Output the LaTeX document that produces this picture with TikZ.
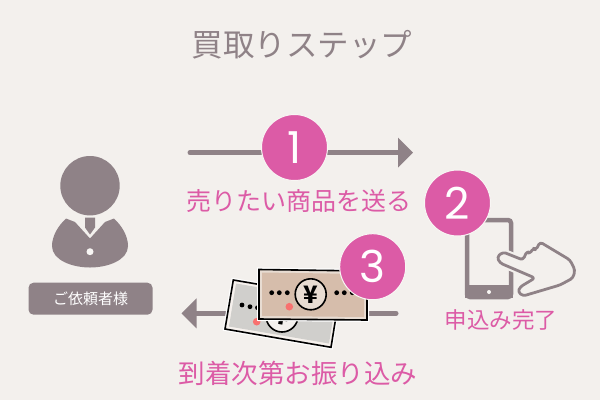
\documentclass[tikz,border=0pt]{standalone}
\usepackage{fontspec}
\usepackage{amsmath}
\setmainfont{Noto Sans CJK JP}
\newfontfamily\numfont{Poppins}
\usetikzlibrary{calc,arrows.meta}
\definecolor{paper}{HTML}{F3F0ED}
\definecolor{halo}{HTML}{F8F6F4}
\definecolor{taupe}{HTML}{8F8287}
\definecolor{rose}{HTML}{DC5BA6}
\definecolor{noteTan}{HTML}{D6BDAB}
\definecolor{noteRim}{HTML}{E8DCD2}
\definecolor{noteGrey}{HTML}{D0CFCC}
\definecolor{dotRed}{HTML}{F8716F}
\tikzset{
	badge/.style = {circle, fill=rose, draw=halo, line width=1pt, text=white, minimum size=66pt, inner sep=0pt, font=\numfont\fontsize{44}{44}\selectfont},
	caption/.style = {text=rose, inner sep=0pt, font=\fontsize{25}{25}\selectfont},
	shaft/.style = {draw=taupe, line width=5pt, line cap=round, -{Triangle[length=15pt,width=29pt]}},
	bill/.style = {draw=black, line width=1.6pt}
}
\begin{document}
\begin{tikzpicture}[x=1pt,y=-1pt]
	\path [use as bounding box, fill=paper] (0,0) rectangle (600,400);
	\node (title) [text=taupe, inner sep=0pt, font=\fontsize{31.5}{31.5}\selectfont] at (302,45) {買取りステップ};
	% client figure
	\fill[taupe] (90,185.7) circle (29.7);
	\fill[taupe] (85,217.5) -- (95,217.5) -- (95,227.5) -- (90,234.5) -- (85,227.5) -- cycle;
	\fill[taupe] (66,218.5) .. controls (58,226) and (52,236) .. (52,246) .. controls (52,260) and (72,267.5) .. (90,267.5) .. controls (108,267.5) and (128,260) .. (128,246) .. controls (128,236) and (122,226) .. (114,218.5) -- (105,222) -- (90,238.5) -- (75,222) -- cycle;
	\fill[halo] (90,251.7) circle (3.5);
	\node (client) [fill=taupe, rounded corners=5pt, minimum width=124pt, minimum height=32pt, inner sep=0pt, text=white, font=\fontsize{15}{15}\selectfont] at (90.5,298.7) {ご依頼者様};
	% step 1
	\coordinate (a1) at (190,152.7);
	\coordinate (a2) at (413,152.7);
	\draw[shaft] (a1) -- (a2);
	\node (one) [badge] at (294.5,147.5) {1};
	\node (send) [caption] at (299,201) {売りたい商品を送る};
	% step 2
	\draw[draw=taupe, line width=4.5pt, rounded corners=3pt] (467,220) rectangle (511,297);
	\fill[taupe] (465,285) rectangle (513,298);
	\fill[halo] (489,292) circle (2);
	\node (two) [badge] at (457.5,203) {2};
	\draw[draw=paper, fill=paper, line width=7pt, line join=round, rounded corners=3pt] (503,252) -- (523,260) -- (527,250) -- (533,248) -- (540,242) -- (570,260) -- (575,270) -- (573,278) -- (560,285) -- (523,296) -- (518,292) -- (520,287) -- (535,278) -- (500,263) -- (497,257) -- cycle;
	\draw[draw=taupe, fill=paper, line width=2.8pt, line join=round, rounded corners=3pt] (503,252) -- (523,260) -- (527,251) -- (530,254) -- (533,248) -- (536,250) -- (540,242) -- (570,260) -- (575,270) -- (573,278) -- (560,285) -- (523,296) -- (518,292) -- (520,287) -- (535,278) -- (500,263) -- (497,257) -- cycle;
	\node (done) [caption, font=\fontsize{22.5}{22.5}\selectfont] at (501,319.5) {申込み完了};
	% step 3
	\coordinate (a3) at (396,313.3);
	\coordinate (a4) at (181.5,313.3);
	\draw[shaft] (a3) -- (a4);
	\draw[white, line width=4pt, line join=miter] (233.3,280) -- (339,298) -- (331,347.3) -- (225,329) -- cycle;
	\draw[bill, fill=noteRim!40!white] (233.3,280) -- (339,298) -- (331,347.3) -- (225,329) -- cycle;
	\fill[noteGrey] (236,283.5) -- (336,300.5) -- (329,343.5) -- (229,326.5) -- cycle;
	\fill (242,305) circle (2.4) (250,306.7) circle (2.4) (257.5,307.7) circle (2.4);
	\draw[bill, fill=paper] (282,316) circle (16);
	\node (yenback) [inner sep=0pt, rotate=-10, font=\fontsize{24}{24}\selectfont\bfseries] at (282,316) {¥};
	\fill[dotRed] (256.7,321.7) circle (3.8);
	\draw[white, line width=4pt] (259,269.5) -- (367,271) -- (367,320) -- (259,319) -- cycle;
	\draw[bill, fill=noteRim] (259,269.5) -- (367,271) -- (367,320) -- (259,319) -- cycle;
	\fill[noteTan] (262,272.5) -- (364,274) -- (364,317) -- (262,316) -- cycle;
	\fill (271.7,292.7) circle (2.4) (279.3,292.7) circle (2.4) (287.3,292.7) circle (2.4);
	\fill (336.7,292.7) circle (2.4) (344.3,292.7) circle (2.4) (352.3,292.7) circle (2.4);
	\draw[bill, fill=noteRim] (310.7,294.3) circle (15.5);
	\node (yen) [inner sep=0pt, font=\fontsize{24}{24}\selectfont\bfseries] at (310.7,294.3) {¥};
	\fill[dotRed] (289.3,306.7) circle (3.8);
	\node (three) [badge] at (372.7,266.7) {3};
	\node (pay) [caption, font=\fontsize{26.5}{26.5}\selectfont] at (298,373) {到着次第お振り込み};
\end{tikzpicture}
\end{document}
